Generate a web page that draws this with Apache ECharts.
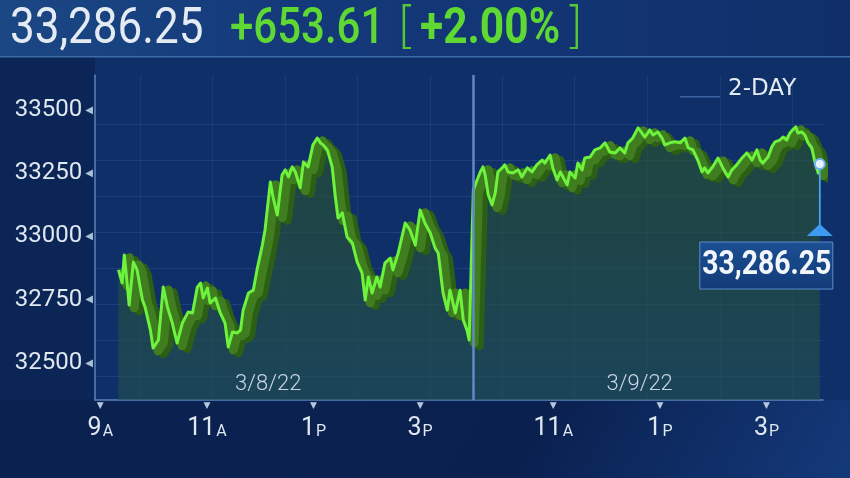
<!DOCTYPE html>
<html><head><meta charset="utf-8">
<script src="https://cdn.jsdelivr.net/npm/echarts@6/dist/echarts.min.js"></script>
<style>html,body{margin:0;padding:0;background:#0a2050;}#c{width:850px;height:478px;}</style>
</head><body><div id="c"></div>
<script>
// ---------- data ----------
const headerPrice = '33,286.25';
const headerChange = '+653.61';
const headerPct = '+2.00%';
const rangeLabel = '2-DAY';
const lastPriceLabel = '33,286.25';
const dateLabels = ['3/8/22', '3/9/22'];
const dateLabelTimes = [12.15, 12.62];          // clock hour of each date label (day 1, day 2)
const yTickValues = [32500, 32750, 33000, 33250, 33500];
const xTickDays  = [1, 1, 1, 1, 2, 2, 2];
const xTickTimes = [9, 11, 13, 15, 11, 13, 15];
const xTickNums  = ['9', '11', '1', '3', '11', '1', '3'];
const xTickSuffix = ['A', 'A', 'P', 'P', 'A', 'P', 'P'];

const day1Time = [9.34,9.41,9.45,9.51,9.54,9.62,9.69,9.79,9.84,9.94,9.99,10.09,10.18,10.26,10.35,10.44,10.54,10.65,10.73,10.82,10.88,10.93,11.01,11.06,11.16,11.25,11.34,11.40,11.48,11.57,11.63,11.68,11.78,11.87,11.94,12.04,12.09,12.19,12.24,12.32,12.41,12.47,12.53,12.60,12.66,12.75,12.81,12.90,12.99,13.07,13.13,13.18,13.26,13.35,13.41,13.46,13.54,13.63,13.73,13.82,13.91,13.97,14.03,14.10,14.19,14.25,14.34,14.44,14.49,14.59,14.72,14.81,14.91,15.00,15.09,15.19,15.28,15.34,15.43,15.51,15.56,15.66,15.75,15.81,15.88,15.92];
const day1Value = [32868,32816,32927,32800,32729,32899,32868,32749,32721,32630,32559,32591,32800,32721,32658,32579,32658,32702,32698,32800,32816,32757,32796,32737,32757,32698,32658,32563,32623,32619,32630,32709,32777,32788,32868,32966,33026,33215,33156,33085,33243,33263,33235,33275,33255,33192,33294,33275,33362,33389,33370,33362,33342,33275,33156,33073,33093,32998,32974,32899,32856,32749,32840,32777,32840,32800,32895,32915,32868,32935,33053,33026,32966,33105,33053,33014,32955,32935,32777,32709,32788,32698,32788,32670,32630,32591];
const day2Time = [9.50,9.57,9.63,9.68,9.72,9.78,9.85,9.91,9.96,10.04,10.09,10.15,10.24,10.34,10.41,10.51,10.60,10.69,10.79,10.84,10.94,10.99,11.07,11.13,11.18,11.26,11.31,11.41,11.46,11.54,11.59,11.69,11.78,11.88,11.97,12.06,12.16,12.25,12.34,12.40,12.49,12.59,12.66,12.72,12.81,12.87,12.96,13.04,13.09,13.19,13.28,13.38,13.47,13.53,13.62,13.71,13.79,13.84,13.90,13.99,14.09,14.18,14.28,14.35,14.44,14.54,14.63,14.73,14.82,14.88,14.93,15.03,15.10,15.16,15.25,15.31,15.38,15.44,15.49,15.55,15.59,15.66,15.72,15.78,15.85,15.90,15.94,15.97,16.00];
const day2Value = [33184,33223,33255,33275,33243,33164,33125,33172,33255,33271,33283,33255,33251,33263,33235,33271,33255,33283,33302,33290,33322,33271,33223,33255,33235,33204,33255,33231,33290,33263,33310,33314,33342,33350,33370,33334,33330,33350,33330,33370,33389,33429,33409,33393,33421,33401,33413,33389,33362,33370,33374,33370,33389,33350,33342,33302,33255,33271,33251,33275,33310,33271,33235,33263,33283,33310,33330,33302,33342,33302,33290,33314,33354,33374,33381,33393,33381,33409,33421,33433,33409,33413,33401,33370,33350,33302,33271,33251,33286.25];
// faint background grid (chart units)
const hGridValues = [32449,32591,32733,32876,33018,33160,33302,33445];
const vGridTimes  = [9.75,11.1,12.47,13.82,15.19];      // day 1 clock
const vGridTimes2 = [10.04,11.4,12.76,14.13,15.48];     // day 2 clock

// ---------- build ----------
const toSession = (day, t) => day === 1 ? t - 9 : t - 2.5;   // continuous trading-hours axis
const mainData = day1Time.map((t, i) => [toSession(1, t), day1Value[i]])
  .concat(day2Time.map((t, i) => [toSession(2, t), day2Value[i]]));
const xTickPos = xTickTimes.map((t, i) => toSession(xTickDays[i], t));
const vGridPos = vGridTimes.map(t => toSession(1, t)).concat(vGridTimes2.map(t => toSession(2, t)));
const dayBreak = toSession(2, 9.5);

const X_MIN = -0.1, X_MAX = 13.56, Y_MIN = 32354, Y_MAX = 33638;
// extrusion offsets for the 3-D ribbon (axis units)
const RIB1_DX = 0.19, RIB1_DY = 22;
const RIB2_DX = 0.095, RIB2_DY = 11;

const chart = echarts.init(document.getElementById('c'), null, {renderer: 'canvas'});
const FONT = 'Roboto, "DejaVu Sans", sans-serif';
const hiddenX = (dx) => ({type: 'value', min: X_MIN - dx, max: X_MAX - dx, show: false});
const hiddenY = (dy) => ({type: 'value', min: Y_MIN + dy, max: Y_MAX + dy, show: false});

const option = {
  backgroundColor: 'transparent',
  animation: false,
  grid: {left: 95, right: 27, top: 75, bottom: 78, containLabel: false},
  xAxis: [
    {type: 'value', min: X_MIN, max: X_MAX,
     axisLine: {show: true, onZero: false, lineStyle: {color: '#5b82bb', width: 1.5}},
     axisTick: {show: false},
     splitLine: {show: false},
     axisLabel: {
       customValues: xTickPos, margin: 0, showMinLabel: true, showMaxLabel: true,
       formatter: v => {
         let i = xTickPos.findIndex(p => Math.abs(p - v) < 1e-6);
         if (i < 0) return '';
         return '{t|▼}\n{n|' + xTickNums[i] + '}{s|' + xTickSuffix[i] + '}';
       },
       rich: {
         t: {fontSize: 9, color: '#b4c8de', lineHeight: 11, fontFamily: '"DejaVu Sans"', align: 'center'},
         n: {fontSize: 25, color: '#dfe7ef', fontFamily: FONT, lineHeight: 30, verticalAlign: 'bottom'},
         s: {fontSize: 16, color: '#dfe7ef', fontFamily: FONT, lineHeight: 20, verticalAlign: 'bottom', padding: [0, 0, 1, 1]}
       }
     }},
    hiddenX(RIB1_DX),
    {type: 'value', min: X_MIN, max: X_MAX, position: 'bottom',
     axisLine: {show: false}, axisLabel: {show: false},
     axisTick: {show: false, customValues: vGridPos},
     splitLine: {show: true, lineStyle: {color: 'rgba(110,150,210,0.13)', width: 1}}},
    hiddenX(RIB2_DX)
  ],
  yAxis: [
    {type: 'value', min: Y_MIN, max: Y_MAX,
     axisLine: {show: true, onZero: false, lineStyle: {color: '#5b82bb', width: 1.5}},
     axisTick: {show: false}, splitLine: {show: false},
     axisLabel: {
       customValues: yTickValues, margin: 2, color: '#dfe7ef', fontSize: 24, fontFamily: FONT,
       formatter: v => String(v) + '{t|◀}',
       rich: {t: {fontSize: 10, color: '#aac0da', fontFamily: '"DejaVu Sans"', padding: [0, 0, 0, 3]}}
     }},
    hiddenY(RIB1_DY),
    {type: 'value', min: Y_MIN, max: Y_MAX, position: 'left',
     axisLine: {show: false, onZero: false}, axisLabel: {show: false},
     axisTick: {show: false, customValues: hGridValues},
     splitLine: {show: true, lineStyle: {color: 'rgba(110,150,210,0.16)', width: 1}}},
    hiddenY(RIB2_DY)
  ],
  series: [
    {type: 'line', name: 'area', data: mainData, xAxisIndex: 0, yAxisIndex: 0, showSymbol: false, silent: true, z: 1,
     lineStyle: {width: 0},
     areaStyle: {origin: 'start', color: new echarts.graphic.LinearGradient(0, 0, 0, 1, [
       {offset: 0, color: 'rgba(38,82,44,0.97)'},
       {offset: 0.5, color: 'rgba(36,80,60,0.95)'},
       {offset: 1, color: 'rgba(34,80,80,0.9)'}])},
     markLine: {silent: true, symbol: ['none', 'none'], label: {show: false},
       lineStyle: {color: '#6189c4', width: 2.5, type: 'solid'},
       data: [{xAxis: dayBreak}]}},
    {type: 'line', name: 'ribbonBack', data: mainData, xAxisIndex: 1, yAxisIndex: 1, showSymbol: false, silent: true, z: 2,
     lineStyle: {width: 9, color: '#2c5e16', join: 'round', cap: 'round'}},
    {type: 'line', name: 'ribbonMid', data: mainData, xAxisIndex: 3, yAxisIndex: 3, showSymbol: false, silent: true, z: 2,
     lineStyle: {width: 9, color: '#3f7d1f', join: 'round', cap: 'round'}},
    {type: 'line', name: 'DJIA', data: mainData, xAxisIndex: 0, yAxisIndex: 0, showSymbol: false, z: 3,
     lineStyle: {width: 3, color: '#6df23e', join: 'round'}}
  ]
};
chart.setOption(option);

// ---------- decorations positioned from the axes ----------
const px = (s, v) => chart.convertToPixel({xAxisIndex: 0, yAxisIndex: 0}, [s, v]);
const last = mainData[mainData.length - 1];
const lp = px(last[0], last[1]);
const d1 = px(toSession(1, dateLabelTimes[0]), Y_MIN);
const d2 = px(toSession(2, dateLabelTimes[1]), Y_MIN);

const gfx = [
  // page backgrounds
  {type: 'rect', z: -20, silent: true, shape: {x: 0, y: 0, width: 850, height: 478},
   style: {fill: new echarts.graphic.LinearGradient(0, 0, 1, 1, [{offset: 0, color: '#0b2352'}, {offset: 0.7, color: '#0a2150'}, {offset: 1, color: '#14397a'}])}},
  {type: 'rect', z: -19, silent: true, shape: {x: 95, y: 57, width: 755, height: 343}, style: {fill: '#0f2f69'}},
  {type: 'rect', z: -19, silent: true, shape: {x: 0, y: 57, width: 95, height: 343}, style: {fill: '#0b2557'}},
  {type: 'rect', z: -18, silent: true, shape: {x: 0, y: 0, width: 850, height: 56},
   style: {fill: new echarts.graphic.LinearGradient(0, 0, 1, 0, [{offset: 0, color: '#1b4784'}, {offset: 0.35, color: '#14397a'}, {offset: 1, color: '#102f6a'}])}},
  {type: 'rect', z: -17, silent: true, shape: {x: 0, y: 56, width: 850, height: 1.5}, style: {fill: '#3f6ba8'}},
  // header
  {type: 'group', x: 10, y: 30, scaleX: 0.88, children: [
    {type: 'text', z: 10, style: {text: headerPrice, x: 0, y: 0, fontSize: 50, fontFamily: FONT, fontWeight: 400,
      verticalAlign: 'middle', fill: '#e4ebf2'}}]},
  {type: 'group', x: 230, y: 30, scaleX: 0.84, children: [
    {type: 'text', z: 10, style: {text: headerChange, x: 0, y: 0, fontSize: 50, fontFamily: FONT, fontWeight: 500,
      verticalAlign: 'middle', fill: '#5fd834'}}]},
  {type: 'text', z: 10, style: {text: '[', x: 397, y: 29, fontSize: 50, fontFamily: '"DejaVu Sans ExtraLight", "DejaVu Sans"', fontWeight: 200, verticalAlign: 'middle', fill: '#56c832'}},
  {type: 'group', x: 420, y: 30, scaleX: 0.85, children: [
    {type: 'text', z: 10, style: {text: headerPct, x: 0, y: 0, fontSize: 50, fontFamily: FONT, fontWeight: 700,
      verticalAlign: 'middle', fill: '#5fd834'}}]},
  {type: 'text', z: 10, style: {text: ']', x: 564, y: 29, fontSize: 50, fontFamily: '"DejaVu Sans ExtraLight", "DejaVu Sans"', fontWeight: 200, verticalAlign: 'middle', fill: '#56c832'}},
  // range label
  {type: 'rect', z: 10, silent: true, shape: {x: 680, y: 96, width: 40, height: 1.5}, style: {fill: '#3d65a3'}},
  {type: 'text', z: 10, style: {text: rangeLabel, x: 728, y: 89, fontSize: 23, fontFamily: '"DejaVu Sans"', verticalAlign: 'middle', fill: '#e3eaf2'}},
  // date labels
  {type: 'text', z: 10, style: {text: dateLabels[0], x: d1[0], y: d1[1] - 16, fontSize: 22, fontFamily: FONT, fontWeight: 300, align: 'center', verticalAlign: 'middle', fill: '#c9d6e2'}},
  {type: 'text', z: 10, style: {text: dateLabels[1], x: d2[0], y: d2[1] - 16, fontSize: 22, fontFamily: FONT, fontWeight: 300, align: 'center', verticalAlign: 'middle', fill: '#c9d6e2'}},
  // last-price callout
  {type: 'line', z: 20, silent: true, shape: {x1: lp[0], y1: lp[1], x2: lp[0], y2: lp[1] + 62}, style: {stroke: '#4aa3f0', lineWidth: 1.8}},
  {type: 'polygon', z: 20, silent: true, shape: {points: [[lp[0] - 13, lp[1] + 72], [lp[0] + 13, lp[1] + 72], [lp[0], lp[1] + 60]]}, style: {fill: '#3b9cf2'}},
  {type: 'circle', z: 21, silent: true, shape: {cx: lp[0], cy: lp[1], r: 5}, style: {fill: '#e8f2ff', stroke: '#6fb2f2', lineWidth: 2}},
  {type: 'rect', z: 20, silent: true, shape: {x: lp[0] - 120, y: lp[1] + 78, width: 133, height: 47},
   style: {fill: new echarts.graphic.LinearGradient(0, 0, 0, 1, [{offset: 0, color: '#1c4f93'}, {offset: 1, color: '#123b78'}]), stroke: '#5a8ccc', lineWidth: 1}},
  {type: 'group', x: lp[0] - 53, y: lp[1] + 102, scaleX: 0.86, children: [
    {type: 'text', z: 22, style: {text: lastPriceLabel, x: 0, y: 0, fontSize: 33, fontFamily: FONT, fontWeight: 700, align: 'center', verticalAlign: 'middle', fill: '#f2f6fa'}}]}
];
chart.setOption({graphic: gfx});
</script>
</body></html>
